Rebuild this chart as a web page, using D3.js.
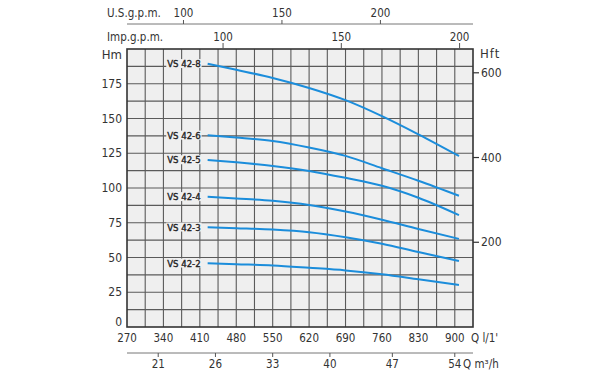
<!DOCTYPE html>
<html lang="en">
<head>
<meta charset="UTF-8">
<title>VS 42 pump curves</title>
<style>
  body { margin: 0; background: #fff; }
  text { font-family: "DejaVu Sans Condensed", "Liberation Sans Narrow", sans-serif; font-stretch: condensed; fill: #333; }
</style>
</head>
<body>
<div id="chart"></div>
<script src="https://d3js.org/d3.v7.min.js"></script>
<script>
// flow points (l/min) and heads (m)
const flow = [425, 480, 550, 620, 690, 760, 830, 908];
const vs42_8 = [189.4, 185.0, 179.2, 172.0, 163.2, 151.7, 138.6, 123.0];
const vs42_6 = [137.9, 136.3, 133.8, 129.1, 123.1, 114.2, 105.2, 94.4];
const vs42_5 = [120.2, 118.5, 115.9, 112.3, 107.3, 101.6, 93.0, 80.5];
const vs42_4 = [93.7, 92.5, 90.8, 87.8, 83.1, 77.2, 70.5, 63.4];
const vs42_3 = [71.8, 71.1, 70.1, 68.2, 64.6, 59.9, 53.9, 47.5];
const vs42_2 = [45.9, 45.2, 44.3, 42.6, 40.7, 37.9, 34.3, 30.2];
const seriesNames = ["VS 42-8", "VS 42-6", "VS 42-5", "VS 42-4", "VS 42-3", "VS 42-2"];

const qTicks = [270, 340, 410, 480, 550, 620, 690, 760, 830, 900];
const hmTicks = [0, 25, 50, 75, 100, 125, 150, 175];
const hftTicks = [200, 400, 600];
const usTicks = [100, 150, 200];
const impTicks = [100, 150, 200];
const m3hLabels = ["21", "26", "33", "40", "47", "54"];
const m3hAtFlow = [330, 440, 550, 660, 780, 900];

const W = 600, H = 375;
const pL = 127, pR = 473, pT = 49, pB = 327;

const svg = d3.select("#chart").append("svg")
    .attr("width", W)
    .attr("height", H);

const x = d3.scaleLinear().domain([270, 935]).range([pL, pR]);
const y = d3.scaleLinear().domain([0, 200]).range([pB, pT]);
const yFt = d3.scaleLinear().domain([0, 200 * 3.2808]).range([pB, pT]);

// plot background
svg.append("rect")
    .attr("x", pL).attr("y", pT)
    .attr("width", pR - pL).attr("height", pB - pT)
    .attr("fill", "#efefef");

// grid
svg.append("g").selectAll("line")
    .data(d3.range(270 + 35, 935, 35))
    .enter().append("line")
    .attr("x1", d => x(d)).attr("x2", d => x(d))
    .attr("y1", pT).attr("y2", pB)
    .attr("stroke", "#5a5a5a").attr("stroke-width", 1.1);

svg.append("g").selectAll("line")
    .data(d3.range(12.5, 200, 12.5))
    .enter().append("line")
    .attr("x1", pL).attr("x2", pR)
    .attr("y1", d => y(d)).attr("y2", d => y(d))
    .attr("stroke", "#5a5a5a").attr("stroke-width", 1.1);

// frame
svg.append("rect")
    .attr("x", pL).attr("y", pT)
    .attr("width", pR - pL).attr("height", pB - pT)
    .attr("fill", "none")
    .attr("stroke", "#333").attr("stroke-width", 1.6);

// curves
const allSeries = [vs42_8, vs42_6, vs42_5, vs42_4, vs42_3, vs42_2];
const line = d3.line()
    .x(d => x(d[0]))
    .y(d => y(d[1]))
    .curve(d3.curveMonotoneX);

allSeries.forEach((vals, i) => {
    const pts = flow.map((q, j) => [q, vals[j]]);
    svg.append("path")
        .attr("d", line(pts))
        .attr("fill", "none")
        .attr("stroke", "#1b8ddb")
        .attr("stroke-width", 2);

    const lbl = svg.append("text")
        .attr("x", x(flow[0]) - 7)
        .attr("y", y(vals[0]))
        .attr("dy", "0.35em")
        .attr("text-anchor", "end")
        .attr("font-size", 9.5)
        .style("fill", "#222")
        .style("stroke", "#222")
        .style("stroke-width", 0.35)
        .text(seriesNames[i]);
    const bb = lbl.node().getBBox();
    svg.insert("rect", "text")
        .attr("x", bb.x - 1).attr("y", bb.y + 1)
        .attr("width", bb.width + 2).attr("height", bb.height - 2)
        .attr("fill", "#efefef");
});

// left axis (Hm)
svg.append("g").selectAll("text")
    .data(hmTicks)
    .enter().append("text")
    .attr("x", 122)
    .attr("y", d => d === 0 ? y(d) - 5 : y(d))
    .attr("dy", "0.35em")
    .attr("text-anchor", "end")
    .attr("font-size", 12)
    .text(d => d);
svg.append("text").attr("x", 122).attr("y", 54).attr("dy", "0.35em")
    .attr("text-anchor", "end")
    .attr("font-size", 13).text("Hm");

// right axis (Hft)
svg.append("g").selectAll("line")
    .data(hftTicks)
    .enter().append("line")
    .attr("x1", pR).attr("x2", pR + 6)
    .attr("y1", d => yFt(d)).attr("y2", d => yFt(d))
    .attr("stroke", "#333").attr("stroke-width", 1.2);
svg.append("g").selectAll("text")
    .data(hftTicks)
    .enter().append("text")
    .attr("x", pR + 8)
    .attr("y", d => yFt(d))
    .attr("dy", "0.35em")
    .attr("font-size", 12)
    .text(d => d);
svg.append("text").attr("x", 480).attr("y", 53).attr("dy", "0.35em")
    .attr("font-size", 13).attr("letter-spacing", 1).text("Hft");

// bottom axis (l/min)
svg.append("g").selectAll("text")
    .data(qTicks)
    .enter().append("text")
    .attr("x", d => x(d))
    .attr("y", 338)
    .attr("dy", "0.35em")
    .attr("text-anchor", "middle")
    .attr("font-size", 11.5)
    .text(d => d);
svg.append("text").attr("x", 471).attr("y", 338).attr("dy", "0.35em")
    .attr("font-size", 11.5).text("Q  l/1'");

// second bottom axis (m3/h)
svg.append("line")
    .attr("x1", pL).attr("x2", pR)
    .attr("y1", 353).attr("y2", 353)
    .attr("stroke", "#777").attr("stroke-width", 1);
svg.append("g").selectAll("line")
    .data(m3hAtFlow)
    .enter().append("line")
    .attr("x1", d => x(d)).attr("x2", d => x(d))
    .attr("y1", 353).attr("y2", 357)
    .attr("stroke", "#555");
svg.append("g").selectAll("text")
    .data(m3hAtFlow)
    .enter().append("text")
    .attr("x", d => x(d))
    .attr("y", 364)
    .attr("dy", "0.35em")
    .attr("text-anchor", "middle")
    .attr("font-size", 11.5)
    .text((d, i) => m3hLabels[i]);
svg.append("text").attr("x", 463).attr("y", 364).attr("dy", "0.35em")
    .attr("font-size", 11.5).text("Q  m³/h");

// top axis (U.S. gpm)
svg.append("line")
    .attr("x1", pL).attr("x2", pR)
    .attr("y1", 24).attr("y2", 24)
    .attr("stroke", "#777").attr("stroke-width", 1);
svg.append("g").selectAll("line")
    .data(usTicks)
    .enter().append("line")
    .attr("x1", d => x(d * 3.78541)).attr("x2", d => x(d * 3.78541))
    .attr("y1", 20).attr("y2", 24)
    .attr("stroke", "#555");
svg.append("g").selectAll("text")
    .data(usTicks)
    .enter().append("text")
    .attr("x", d => x(d * 3.78541))
    .attr("y", 13)
    .attr("dy", "0.35em")
    .attr("text-anchor", "middle")
    .attr("font-size", 11.5)
    .text(d => d);
svg.append("text").attr("x", 107).attr("y", 13).attr("dy", "0.35em")
    .attr("font-size", 11.5).text("U.S.g.p.m.");

// imperial gpm on the plot's top edge
svg.append("g").selectAll("line")
    .data(impTicks)
    .enter().append("line")
    .attr("x1", d => x(d * 4.54609)).attr("x2", d => x(d * 4.54609))
    .attr("y1", pT - 6).attr("y2", pT)
    .attr("stroke", "#555");
svg.append("g").selectAll("text")
    .data(impTicks)
    .enter().append("text")
    .attr("x", d => x(d * 4.54609))
    .attr("y", 37)
    .attr("dy", "0.35em")
    .attr("text-anchor", "middle")
    .attr("font-size", 11.5)
    .text(d => d);
svg.append("text").attr("x", 107).attr("y", 37).attr("dy", "0.35em")
    .attr("font-size", 11.5).text("Imp.g.p.m.");
</script>
</body>
</html>
